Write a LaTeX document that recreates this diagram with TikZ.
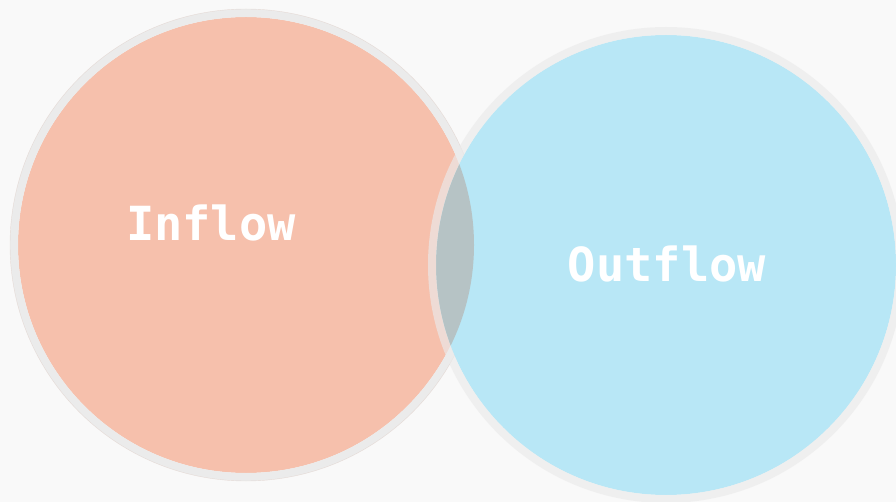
\documentclass[tikz,border=0pt]{standalone}
\usepackage{fontspec}
\newfontfamily\labelfont{DejaVu Sans Mono}
\definecolor{paper}{RGB}{249,249,249}
\definecolor{salmon}{RGB}{246,192,172}
\definecolor{skyblue}{RGB}{184,231,246}
\definecolor{ringgrey}{RGB}{235,235,235}
\definecolor{lensgrey}{RGB}{182,195,197}

\begin{document}
\begin{tikzpicture}[x=1pt, y=-1pt,
    word/.style={text=white, font=\labelfont\bfseries\fontsize{47}{47}\selectfont}]
         \fill[paper] (0,0) rectangle (896,502);
         \clip (0,0) rectangle (896,502);
         \coordinate (in) at (246,245);
         \coordinate (out) at (666,265);
         % left circle
         \fill[salmon] (in) circle (228);
         \draw[ringgrey, line width=8pt] (in) circle (232);
         \draw[salmon!80!black, opacity=0.25, thin] (in) circle (236);
         % right circle
         \fill[skyblue] (out) circle (230);
         \begin{scope}
           \clip (in) circle (228);
           \fill[lensgrey] (out) circle (230);
         \end{scope}
         \draw[ringgrey, line width=8pt, opacity=0.65] (out) circle (234);
         % labels
         \node[word] (inflow) at (211,223) {Inflow};
         \node[word] (outflow) at (667,264) {Outflow};
      \end{tikzpicture}
\end{document}
